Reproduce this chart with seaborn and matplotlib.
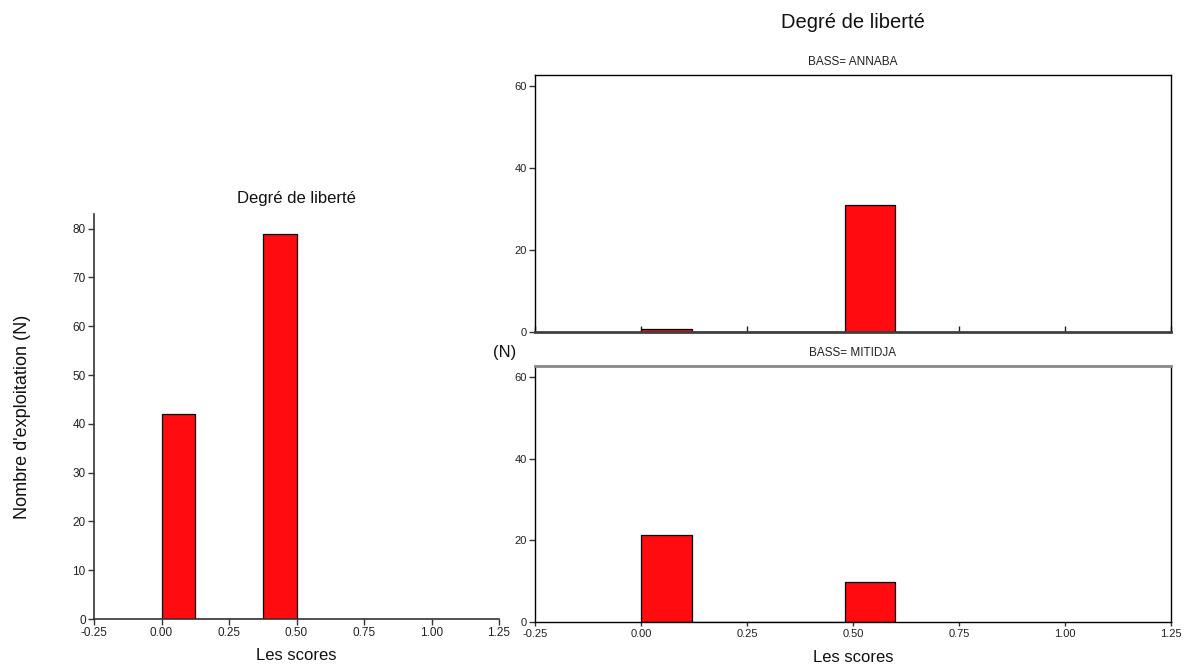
import numpy as np
import pandas as pd
import matplotlib
matplotlib.use("Agg")
import matplotlib.pyplot as plt
import seaborn as sns

# ---- data ----
left_bin_centers = [0.0625, 0.4375]
left_counts = [42, 79]
right_bin_centers = [0.06, 0.54]
annaba_counts = [0.7, 31]
mitidja_counts = [21.3, 9.8]
x_ticks = [-0.25, 0.00, 0.25, 0.50, 0.75, 1.00, 1.25]
left_y_ticks = [0, 10, 20, 30, 40, 50, 60, 70, 80]
right_y_ticks = [0, 20, 40, 60]

sns.set_theme(style="white")
plt.rcParams['font.family'] = ['Liberation Sans', 'DejaVu Sans']

RED = '#ff0b10'
fig = plt.figure(figsize=(11.86, 6.67), dpi=100)
W, H = 1186, 667

def box(l, t, r, b):
    return [l / W, 1 - b / H, (r - l) / W, (b - t) / H]

# ---- left panel ----
axL = fig.add_axes(box(94, 214, 499, 619))
dfL = pd.DataFrame({'score': left_bin_centers, 'n': left_counts})
sns.histplot(data=dfL, x='score', weights='n', binwidth=0.125, binrange=(0, 0.5),
             color=RED, alpha=1, edgecolor='black', linewidth=0.9, ax=axL)
axL.set_xlim(-0.25, 1.25)
axL.set_ylim(0, 83)
axL.set_xticks(x_ticks)
axL.set_xticklabels([f"{v:.2f}" for v in x_ticks])
axL.set_yticks(left_y_ticks)
for s in ['top', 'right']:
    axL.spines[s].set_visible(False)
for s in ['left', 'bottom']:
    axL.spines[s].set_color('#333333')
    axL.spines[s].set_linewidth(1.2)
axL.tick_params(axis='both', which='both', direction='out', length=4, width=1,
                color='#333333', labelsize=8.5, labelcolor='#222222', bottom=True, left=True, pad=2)
axL.set_title('Degré de liberté', fontsize=12, pad=8, color='#111111')
axL.set_xlabel('Les scores', fontsize=12, labelpad=6, color='#111111')
axL.set_ylabel("Nombre d'exploitation (N)", fontsize=13, labelpad=30, color='#111111')

# ---- right panels ----
def right_panel(rect, counts, title, bottom_labels):
    ax = fig.add_axes(rect)
    df = pd.DataFrame({'score': right_bin_centers, 'n': counts})
    sns.histplot(data=df, x='score', weights='n', binwidth=0.12, binrange=(0, 0.6),
                 color=RED, alpha=1, edgecolor='black', linewidth=0.9, ax=ax)
    ax.set_xlim(-0.25, 1.25)
    ax.set_ylim(0, 62.7)
    ax.set_xticks(x_ticks)
    ax.set_yticks(right_y_ticks)
    for s in ax.spines.values():
        s.set_visible(True)
        s.set_color('black')
        s.set_linewidth(1.0)
    ax.tick_params(axis='y', direction='out', length=4, width=1, color='#333333',
                   labelsize=8, labelcolor='#222222', left=True, pad=2)
    if bottom_labels:
        ax.set_xticklabels([f"{v:.2f}" for v in x_ticks])
        ax.tick_params(axis='x', direction='out', length=3, width=1, color='#333333',
                       labelsize=8, labelcolor='#222222', bottom=True, pad=2)
        ax.spines['top'].set_color('#888888')
        ax.spines['top'].set_linewidth(2)
        ax.set_xlabel('Les scores', fontsize=12, labelpad=8, color='#111111')
    else:
        ax.set_xticklabels([])
        ax.tick_params(axis='x', direction='in', length=4, width=1, color='#222222',
                       bottom=True)
        ax.spines['bottom'].set_color('#404040')
        ax.spines['bottom'].set_linewidth(2)
        ax.set_xlabel('')
    ax.set_ylabel('')
    ax.set_title(title, fontsize=8.5, pad=7, color='#222222')
    return ax

axA = right_panel(box(535, 75, 1171, 332), annaba_counts, 'BASS= ANNABA', False)
axM = right_panel(box(535, 366, 1171, 622), mitidja_counts, 'BASS= MITIDJA', True)

fig.text(853 / W, 1 - 22 / H, 'Degré de liberté', fontsize=14.5, ha='center', va='center',
         color='#111111')
fig.text(505 / W, 1 - 352 / H, '(N)', fontsize=12, ha='center', va='center', color='#111111')

fig.savefig('out.png', dpi=100, facecolor='white')
